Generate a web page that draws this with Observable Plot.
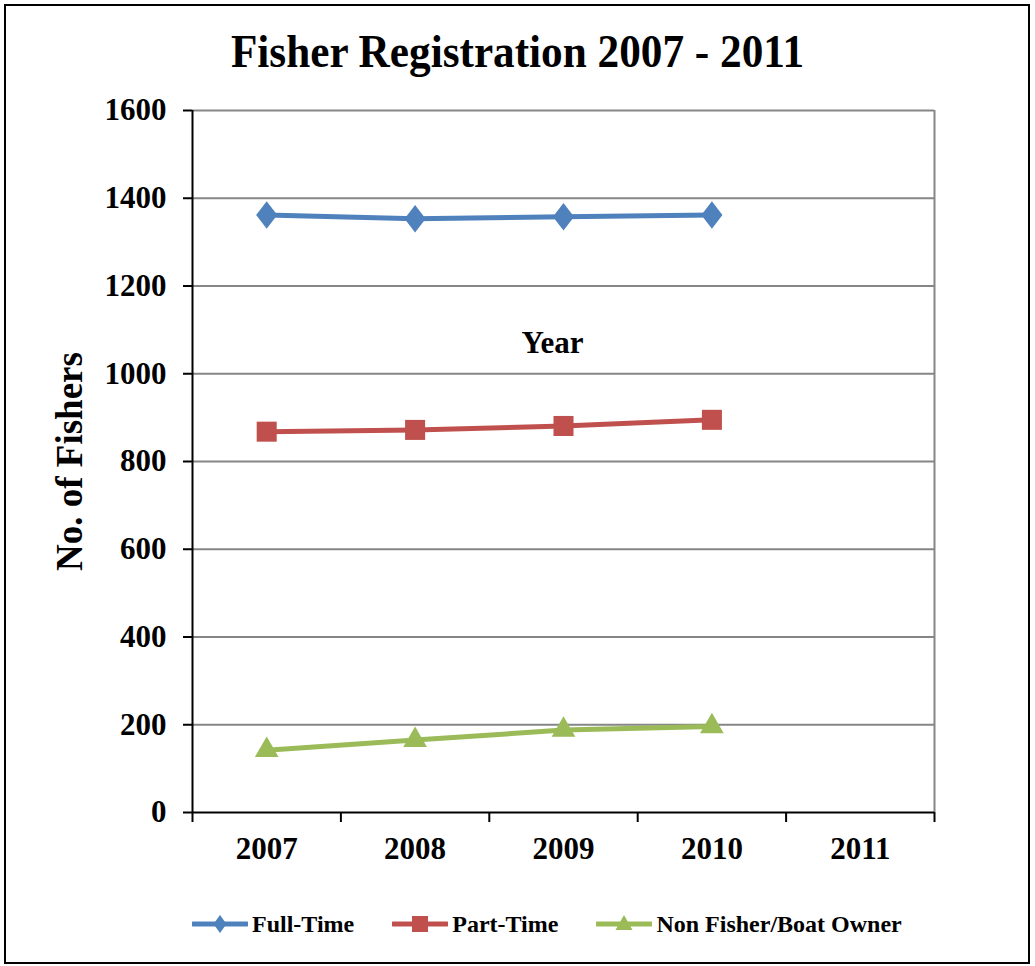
<!DOCTYPE html>
<html><head><meta charset="utf-8">
<script src="https://cdn.jsdelivr.net/npm/d3@7"></script>
<script src="https://cdn.jsdelivr.net/npm/@observablehq/plot@0.6"></script>
<style>
html,body{margin:0;padding:0;background:#fff;}
#page{position:relative;width:1035px;height:966px;overflow:hidden;font-family:"Liberation Serif","Times New Roman",serif;font-weight:bold;color:#000;background:#fff;}
#frame{position:absolute;left:4px;top:4px;width:1022px;height:956px;border:2px solid #000;}
#title{position:absolute;left:0;width:1035px;top:28px;text-align:center;font-size:47px;line-height:47px;white-space:nowrap;transform:scaleX(0.92);transform-origin:518px 0;}
#chart{position:absolute;left:0;top:0;}
#legend{position:absolute;left:192px;top:910px;display:flex;gap:38px;align-items:center;font-size:24px;line-height:28px;white-space:nowrap;}
.item{display:flex;align-items:center;}
.item svg{margin-right:4px;display:block;}
</style></head><body>
<div id="page"><div id="frame"></div><div id="title"></div><div id="chart"></div><div id="legend"></div></div>
<script>
const years = [2007, 2008, 2009, 2010];
const axisYears = [2007, 2008, 2009, 2010, 2011];
const fullTime = [1362, 1353, 1358, 1362];
const partTime = [868, 872, 881, 895];
const nonFisher = [142, 165, 188, 196];
const seriesNames = ["Full-Time", "Part-Time", "Non Fisher/Boat Owner"];
const seriesColors = ["#4F81BD", "#C0504D", "#9BBB59"];
const yTicks = [0, 200, 400, 600, 800, 1000, 1200, 1400, 1600];
const titleText = "Fisher Registration 2007 - 2011";
const yLabel = "No. of Fishers";
const xLabel = "Year";

const seriesValues = [fullTime, partTime, nonFisher];
const data = [];
seriesNames.forEach((s, k) => years.forEach((yr, i) => data.push({year: yr, value: seriesValues[k][i], series: s})));
const bySeries = s => data.filter(d => d.series === s);

const xMin = axisYears[0] - 0.5, xMax = axisYears[axisYears.length - 1] + 0.5;
const boundaries = d3.range(xMin, xMax + 0.01, 1);

const diamondTall = {draw(ctx, size) {
  const r = Math.sqrt(size / Math.PI);
  const h = r * 1.25, w = r * 0.96;
  ctx.moveTo(0, -h); ctx.lineTo(w, 0); ctx.lineTo(0, h); ctx.lineTo(-w, 0); ctx.closePath();
}};

document.getElementById("title").textContent = titleText;

const font = '"Liberation Serif","Times New Roman",serif';
const chart = Plot.plot({
  width: 1035,
  height: 880,
  marginTop: 110,
  marginBottom: 68,
  marginLeft: 192,
  marginRight: 101,
  style: {fontFamily: font, fontWeight: "bold", fontSize: "31px", color: "#000", background: "transparent", overflow: "visible"},
  x: {type: "linear", domain: [xMin, xMax]},
  y: {domain: [0, 1600]},
  color: {domain: seriesNames, range: seriesColors},
  marks: [
    Plot.ruleY(yTicks.filter(d => d > 0), {stroke: "#868686", strokeWidth: 2}),
    Plot.ruleX([xMax], {stroke: "#868686", strokeWidth: 2}),
    Plot.ruleX([xMin], {stroke: "#000", strokeWidth: 2}),
    Plot.ruleY([0], {stroke: "#000", strokeWidth: 2}),
    Plot.axisY({ticks: yTicks, tickSize: 9, tickPadding: 17, strokeWidth: 2, fontSize: 31, label: null, tickFormat: d => String(d)}),
    Plot.axisX({ticks: boundaries, tickSize: 10, tickFormat: () => "", strokeWidth: 2, label: null}),
    Plot.axisX({ticks: axisYears, tickSize: 0, tickPadding: 24, fontSize: 31, label: null, tickFormat: d => String(d)}),
    Plot.line(data, {x: "year", y: "value", z: "series", stroke: "series", strokeWidth: 5}),
    Plot.dot(bySeries(seriesNames[0]), {x: "year", y: "value", symbol: diamondTall, r: 11, fill: seriesColors[0], stroke: "none"}),
    Plot.dot(bySeries(seriesNames[1]), {x: "year", y: "value", symbol: "square", r: 11.3, fill: seriesColors[1], stroke: "none"}),
    Plot.dot(bySeries(seriesNames[2]), {x: "year", y: "value", symbol: "triangle", r: 8.8, fill: seriesColors[2], stroke: "none"}),
    Plot.text([xLabel], {frameAnchor: "top", textAnchor: "middle", lineAnchor: "middle", dx: -11, dy: 233, fontSize: 31, fontWeight: "bold", fill: "#000"}),
    Plot.text([yLabel], {frameAnchor: "left", textAnchor: "middle", lineAnchor: "middle", rotate: -90, dx: -122, fontSize: 37, fontWeight: "bold", fill: "#000"})
  ]
});
document.getElementById("chart").appendChild(chart);

// legend
const legend = document.getElementById("legend");
const legendSymbols = [
  {draw(ctx) { ctx.moveTo(0, -9); ctx.lineTo(6.5, 0); ctx.lineTo(0, 9); ctx.lineTo(-6.5, 0); ctx.closePath(); }},
  {draw(ctx) { ctx.rect(-8, -8, 16, 16); }},
  {draw(ctx) { ctx.moveTo(0, -9); ctx.lineTo(8.5, 6); ctx.lineTo(-8.5, 6); ctx.closePath(); }}
];
seriesNames.forEach((name, k) => {
  const item = document.createElement("div");
  item.className = "item";
  const svg = d3.create("svg").attr("width", 56).attr("height", 22);
  svg.append("line").attr("x1", 1).attr("x2", 55).attr("y1", 11).attr("y2", 11)
    .attr("stroke", seriesColors[k]).attr("stroke-width", 5).attr("stroke-linecap", "round");
  svg.append("path").attr("transform", "translate(28,11)")
    .attr("d", d3.symbol(legendSymbols[k])()).attr("fill", seriesColors[k]);
  item.appendChild(svg.node());
  const span = document.createElement("span");
  span.textContent = name;
  item.appendChild(span);
  legend.appendChild(item);
});
</script>
</body></html>
